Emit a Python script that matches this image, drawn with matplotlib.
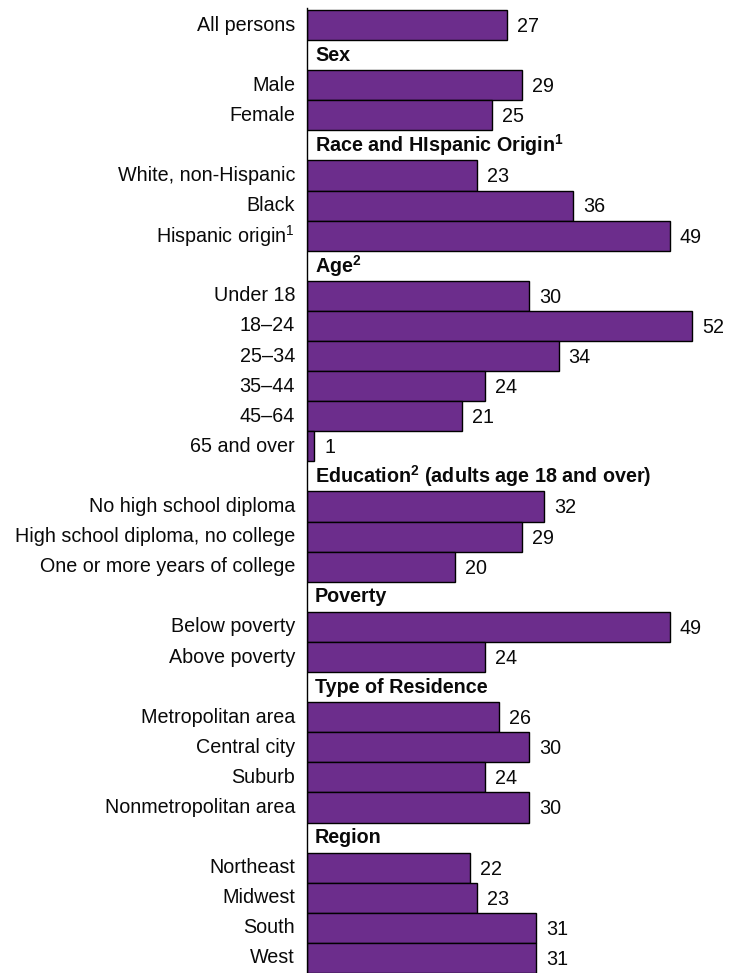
import matplotlib
matplotlib.use("Agg")
import matplotlib.pyplot as plt

plt.rcParams['font.family'] = ['Liberation Sans', 'DejaVu Sans']
plt.rcParams['mathtext.fontset'] = 'custom'
plt.rcParams['mathtext.rm'] = 'Liberation Sans'
plt.rcParams['mathtext.bf'] = 'Liberation Sans:bold'

# Percent of persons in each group
overall_label = "All persons"
overall_value = 27

group_titles = [
    "Sex",
    r"Race and HIspanic Origin$^\mathbf{1}$",
    r"Age$^\mathbf{2}$",
    r"Education$^\mathbf{2}$ (adults age 18 and over)",
    "Poverty",
    "Type of Residence",
    "Region",
]
group_labels = [
    ["Male", "Female"],
    ["White, non-Hispanic", "Black", r"Hispanic origin$^\mathrm{1}$"],
    ["Under 18", "18\u201324", "25\u201334", "35\u201344", "45\u201364", "65 and over"],
    ["No high school diploma", "High school diploma, no college",
     "One or more years of college"],
    ["Below poverty", "Above poverty"],
    ["Metropolitan area", "Central city", "Suburb", "Nonmetropolitan area"],
    ["Northeast", "Midwest", "South", "West"],
]
group_values = [
    [29, 25],
    [23, 36, 49],
    [30, 52, 34, 24, 21, 1],
    [32, 29, 20],
    [49, 24],
    [26, 30, 24, 30],
    [22, 23, 31, 31],
]

# Flatten into rows: each row is either a bar or a section heading
rows = [("bar", overall_label, overall_value)]
for title, labs, vals in zip(group_titles, group_labels, group_values):
    rows.append(("head", title, None))
    for lab, val in zip(labs, vals):
        rows.append(("bar", lab, val))

n_rows = len(rows)
W, H = 730, 973
fig = plt.figure(figsize=(W / 100, H / 100), dpi=100)

ax_left = 307 / W
ax_top_px = 8
ax = fig.add_axes([ax_left, 0.0, 1 - ax_left, (H - ax_top_px) / H])

px_per_unit = 7.4
ax.set_xlim(0, (W - 307) / px_per_unit)
row_px = (H - 10) / n_rows
ax.set_ylim(n_rows - 0.5, -0.5 - (10 - ax_top_px) / row_px)

bar_color = "#6C2D8C"
text_color = "#0A0A0A"
fs = 14.2

for i, (kind, text, val) in enumerate(rows):
    if kind == "bar":
        ax.barh(i, val, height=1.0, color=bar_color, edgecolor="black",
                linewidth=1.0, zorder=2)
        ax.annotate(text, xy=(0, i), xytext=(-8.6, 0), textcoords="offset points",
                    ha="right", va="center", fontsize=fs, color=text_color)
        ax.annotate(f"{val}", xy=(val, i), xytext=(7.2, -1), textcoords="offset points",
                    ha="left", va="center", fontsize=fs, color=text_color)
    else:
        ax.annotate(text, xy=(0, i), xytext=(5.8, 0), textcoords="offset points",
                    ha="left", va="center", fontsize=fs, fontweight="bold",
                    color=text_color)

for side in ("top", "right", "bottom"):
    ax.spines[side].set_visible(False)
ax.spines["left"].set_linewidth(1.0)
ax.spines["left"].set_color("black")
ax.spines["left"].set_zorder(3)
ax.set_xticks([])
ax.set_yticks([])
ax.patch.set_alpha(0)

fig.savefig("out.png", dpi=100)
